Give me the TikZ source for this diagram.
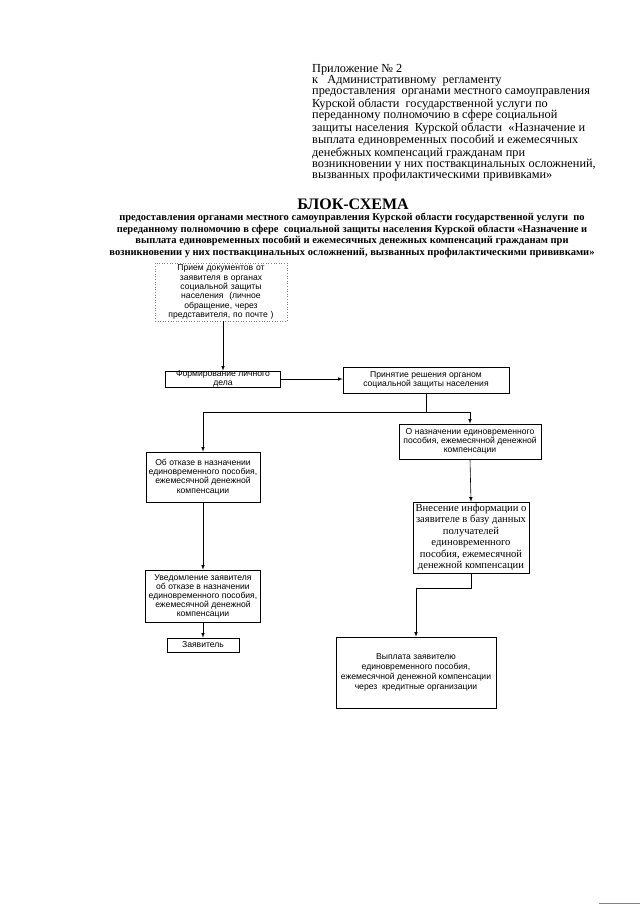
\documentclass[tikz,border=0pt]{standalone}
\usepackage{fontspec}
\setmainfont{Liberation Serif}
\setsansfont{Liberation Sans}
\usepackage{tikz}
\usetikzlibrary{positioning}

\begin{document}
\begin{tikzpicture}[x=1pt,y=-1pt,
    blk/.style={draw,line width=0.6pt,align=center,inner sep=0.5pt,
        font=\sffamily\fontsize{8.6}{9.3}\selectfont},
    lnk/.style={line width=0.6pt}]

\useasboundingbox (0,0) rectangle (640,905);

% header
\node[anchor=north west,align=left,inner sep=0pt,font=\fontsize{12.3}{11.3}\selectfont] (app) at (312,64)
  {Приложение № 2\\
   к\ \ \ Административному\ \ регламенту\\
   предоставления\ \ органами местного самоуправления\\
   Курской области\ \ государственной услуги по\\
   переданному полномочию в сфере социальной\\
   защиты населения\ \ Курской области\ \ «Назначение и\\
   выплата единовременных пособий и ежемесячных\\
   денебжных компенсаций гражданам при\\
   возникновении у них поствакцинальных осложнений,\\
   вызванных профилактическими прививками»};

\node[font=\bfseries\fontsize{16}{17}\selectfont,inner sep=0pt] (title) at (353,204) {БЛОК-СХЕМА};
\node[anchor=north,align=center,inner sep=0pt,font=\bfseries\fontsize{10.5}{11.6}\selectfont] (sub) at (352,213)
  {предоставления органами местного самоуправления Курской области государственной услуги\ \ по\\
   переданному полномочию в сфере\ \ социальной защиты населения Курской области «Назначение и\\
   выплата единовременных пособий и ежемесячных денежных компенсаций гражданам при\\
   возникновении у них поствакцинальных осложнений, вызванных профилактическими прививками»};

% blocks
\node[blk,draw=gray,dotted,minimum width=132,minimum height=58,text width=130] (1) at (221,292)
  {Прием документов от\\заявителя в органах\\социальной защиты\\населения\ \ (личное\\обращение, через\\представителя, по почте )};
\node[blk,minimum width=115,minimum height=15,inner sep=0pt,font=\sffamily\fontsize{8.6}{8.4}\selectfont] (2) at (223,379)
  {Формирование личного\\дела};
\node[blk,minimum width=166,minimum height=26] (3) at (426,380)
  {Принятие решения органом\\социальной защиты населения};
\node[blk,minimum width=114,minimum height=50] (4) at (203,477)
  {Об отказе в назначении\\единовременного пособия,\\ежемесячной денежной\\компенсации};
\node[blk,minimum width=142,minimum height=35] (5) at (470,441.5)
  {О назначении единовременного\\пособия, ежемесячной денежной\\компенсации};
\node[blk,minimum width=116,minimum height=71,font=\fontsize{10.6}{11.5}\selectfont] (6) at (471,537.5)
  {Внесение информации о\\заявителе в базу данных\\получателей\\единовременного\\пособия, ежемесячной\\денежной компенсации};
\node[blk,minimum width=115,minimum height=52,font=\sffamily\fontsize{8.6}{9}\selectfont] (7) at (203,596)
  {Уведомление заявителя\\об отказе в назначении\\единовременного пособия,\\ежемесячной денежной\\компенсации};
\node[blk,minimum width=72,minimum height=14] (8) at (203,645) {Заявитель};
\node[blk,minimum width=160,minimum height=71,font=\sffamily\fontsize{8.6}{10}\selectfont] (9) at (416,672.5)
  {Выплата заявителю\\единовременного пособия,\\ежемесячной денежной компенсации\\через\ \ кредитные организации};

% connectors
\coordinate (fork) at (426,412);
\draw[lnk,-latex] (1.south -| 2.north) -- (2.north);
\draw[lnk,-latex] (2.east) -- (3.west |- 2.east);
\draw[lnk] (3.south) -- (fork);
\draw[lnk,-latex] (fork) -| (4.north);
\draw[lnk,-latex] (fork) -| (5.north);
\draw[lnk,-latex] (4.south) -- (7.north);
\draw[lnk,-latex] (7.south) -- (8.north);
\draw[lnk,-latex] (5.south) -- (6.north);
\draw[lnk,-latex] (6.south) -- ++(0,15) -| (9.north);

% scan edge
\draw[gray,line width=1pt] (599,903) -- (640,903);
\end{tikzpicture}
\end{document}
